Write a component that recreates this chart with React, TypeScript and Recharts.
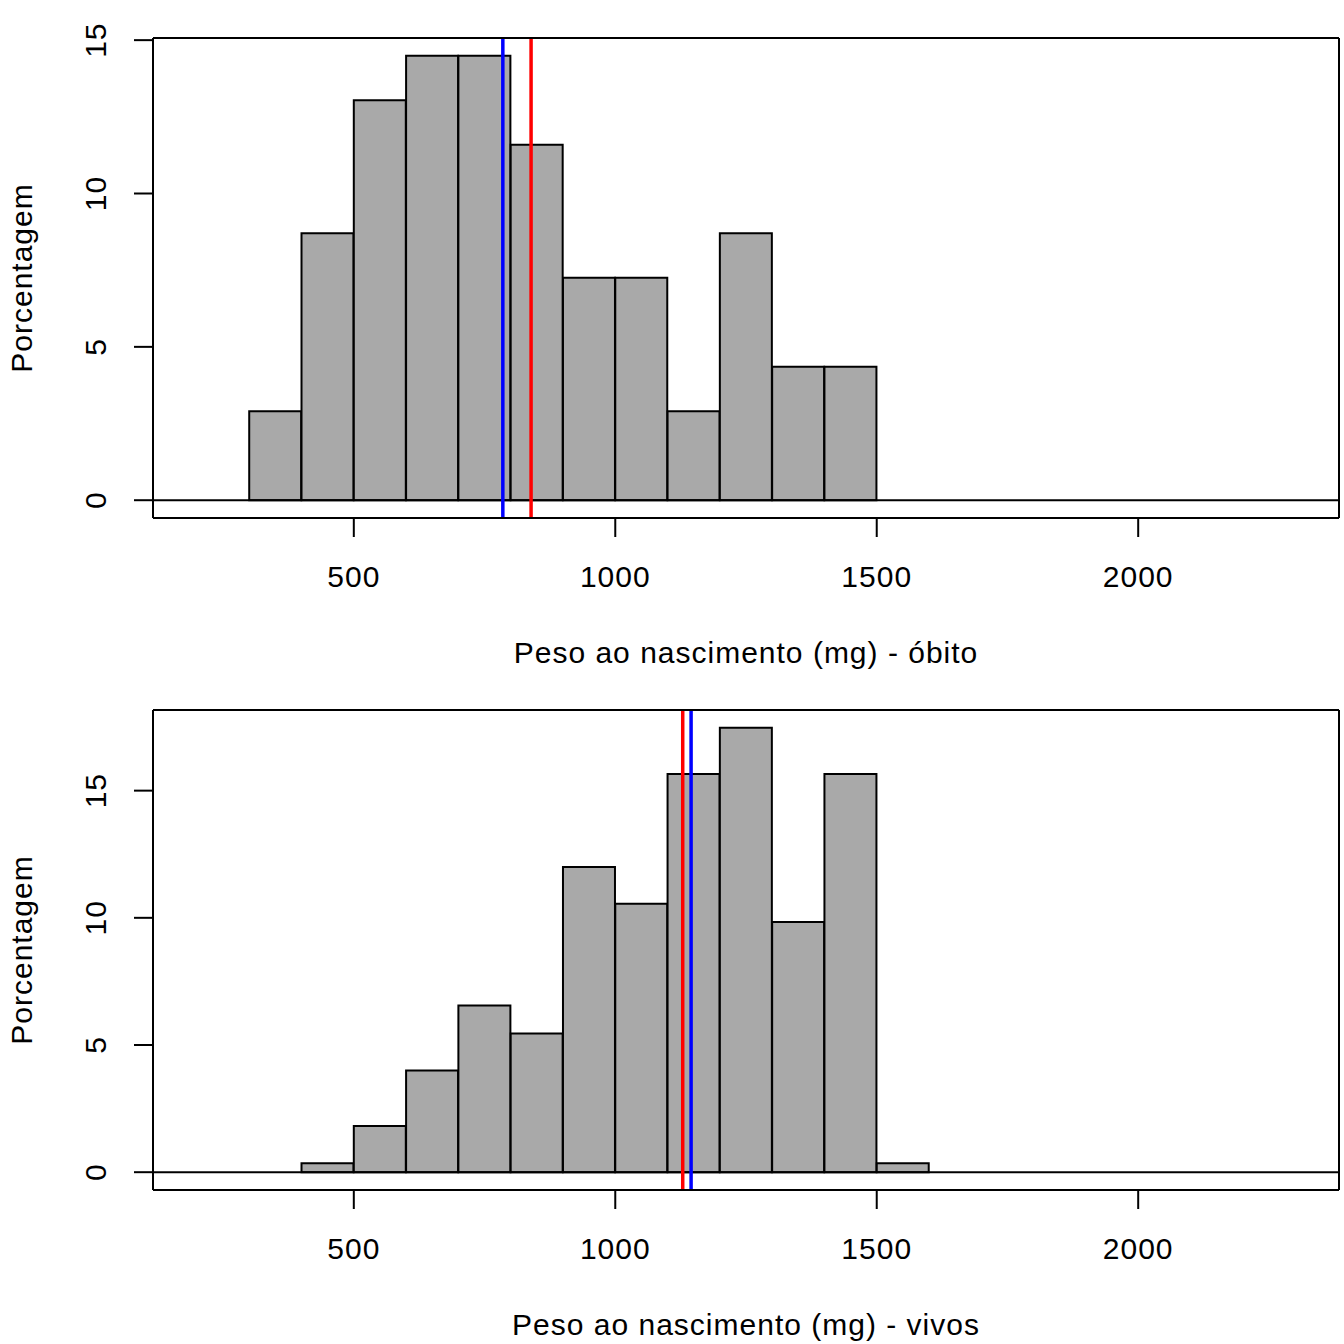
import React from "react"
import {
  Bar,
  ComposedChart,
  ReferenceLine,
  XAxis,
  YAxis,
} from "recharts"

// histogram bins (width 100 mg), given by their mid points
const binMids = [350, 450, 550, 650, 750, 850, 950, 1050, 1150, 1250, 1350, 1450, 1550]

// percentage of babies per bin
const obitoPct = [2.9, 8.7, 13.04, 14.49, 14.49, 11.59, 7.25, 7.25, 2.9, 8.7, 4.35, 4.35, 0]
const vivosPct = [0, 0.35, 1.82, 4.0, 6.55, 5.45, 12.0, 10.55, 15.65, 17.47, 9.84, 15.65, 0.35]

// mean (red) and median (blue) lines
const obitoMean = 839
const obitoMedian = 785
const vivosMean = 1129
const vivosMedian = 1145

const xTicks = [500, 1000, 1500, 2000]
const xDomain = [116, 2384]
const obitoTicks = [0, 5, 10, 15]
const obitoDomain = [-0.58, 15.07]
const vivosTicks = [0, 5, 10, 15]
const vivosDomain = [-0.7, 18.17]

const font = '"Liberation Sans", Arial, Helvetica, sans-serif'
const fontSize = 30
const spacing = 1

const YTick = (props: any) => {
  const { x, y, payload } = props
  return (
    <text
      x={x}
      y={y}
      transform={`rotate(-90 ${x} ${y})`}
      textAnchor="middle"
      fontSize={fontSize}
      fontFamily={font}
      letterSpacing={spacing}
      fill="#000"
    >
      {payload.value}
    </text>
  )
}

const YLabel = (props: any) => {
  const { viewBox } = props
  const x = viewBox.x + 32
  const y = viewBox.y + viewBox.height / 2
  return (
    <text
      x={x}
      y={y}
      transform={`rotate(-90 ${x} ${y})`}
      textAnchor="middle"
      fontSize={fontSize}
      fontFamily={font}
      letterSpacing={spacing}
      fill="#000"
    >
      Porcentagem
    </text>
  )
}

const makeXLabel = (title: string) => (props: any) => {
  const { viewBox } = props
  return (
    <text
      x={viewBox.x + viewBox.width / 2}
      y={viewBox.y + 145}
      textAnchor="middle"
      fontSize={fontSize}
      fontFamily={font}
      letterSpacing={spacing}
      fill="#000"
    >
      {title}
    </text>
  )
}

type PanelProps = {
  values: number[]
  yTicks: number[]
  yDomain: number[]
  mean: number
  median: number
  title: string
}

const Panel = ({ values, yTicks, yDomain, mean, median, title }: PanelProps) => {
  const data = binMids.map((mid, i) => ({ mid, pct: values[i] }))
  return (
    <ComposedChart
      width={1344}
      height={672}
      data={data}
      margin={{ top: 37, right: 4, bottom: 0, left: 0 }}
      barCategoryGap={0}
      barGap={0}
    >
      <XAxis
        dataKey="mid"
        type="number"
        domain={xDomain}
        allowDataOverflow
        ticks={xTicks}
        height={154}
        stroke="#000"
        strokeWidth={2}
        tickSize={19}
        tickMargin={29}
        tick={{ fill: "#000", fontSize, fontFamily: font, letterSpacing: spacing }}
        label={makeXLabel(title)}
      />
      {/* top and right axes only draw the rest of the box */}
      <XAxis
        xAxisId="top"
        dataKey="mid"
        orientation="top"
        type="number"
        domain={xDomain}
        allowDataOverflow
        height={1}
        tick={false}
        tickLine={false}
        stroke="#000"
        strokeWidth={2}
      />
      <YAxis
        type="number"
        domain={yDomain}
        allowDataOverflow
        ticks={yTicks}
        width={153}
        stroke="#000"
        strokeWidth={2}
        tickSize={19}
        tickMargin={28}
        tick={<YTick />}
        label={<YLabel />}
      />
      <YAxis
        yAxisId="right"
        orientation="right"
        type="number"
        domain={yDomain}
        allowDataOverflow
        width={1}
        tick={false}
        tickLine={false}
        stroke="#000"
        strokeWidth={2}
      />
      <Bar
        dataKey="pct"
        fill="#A9A9A9"
        stroke="#000"
        strokeWidth={2}
        isAnimationActive={false}
      />
      <ReferenceLine y={0} stroke="#000" strokeWidth={2} />
      <ReferenceLine x={median} stroke="#0000FF" strokeWidth={3.5} />
      <ReferenceLine x={mean} stroke="#FF0000" strokeWidth={3.5} />
    </ComposedChart>
  )
}

export default function App() {
  return (
    <div
      style={{
        position: "absolute",
        left: 0,
        top: 0,
        width: 1344,
        height: 1344,
        background: "#fff",
      }}
    >
      <Panel
        values={obitoPct}
        yTicks={obitoTicks}
        yDomain={obitoDomain}
        mean={obitoMean}
        median={obitoMedian}
        title="Peso ao nascimento (mg) - óbito"
      />
      <Panel
        values={vivosPct}
        yTicks={vivosTicks}
        yDomain={vivosDomain}
        mean={vivosMean}
        median={vivosMedian}
        title="Peso ao nascimento (mg) - vivos"
      />
    </div>
  )
}
